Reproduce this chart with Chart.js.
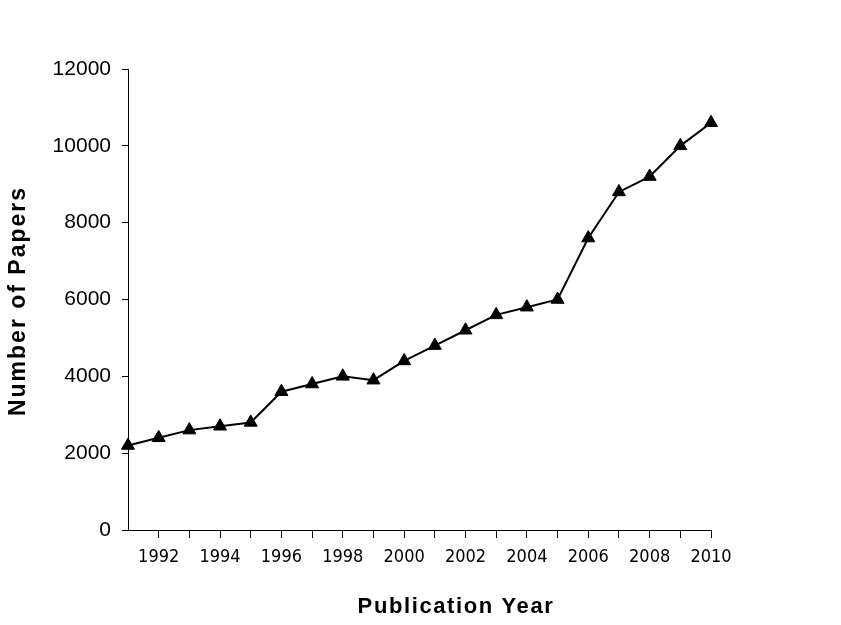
<!DOCTYPE html>
<html>
<head>
<meta charset="utf-8">
<script src="https://cdn.jsdelivr.net/npm/chart.js@4/dist/chart.umd.min.js"></script>
<style>
html,body{margin:0;padding:0;background:#fff;}
#wrap{width:841px;height:625px;position:relative;}
</style>
</head>
<body>
<div id="wrap"><canvas id="c" width="841" height="625"></canvas></div>
<script>
const years = [1991,1992,1993,1994,1995,1996,1997,1998,1999,2000,2001,2002,2003,2004,2005,2006,2007,2008,2009,2010];
const papers = [2200,2400,2600,2700,2800,3600,3800,4000,3900,4400,4800,5200,5600,5800,6000,7600,8800,9200,10000,10600];
const yTicks = [0,2000,4000,6000,8000,10000,12000];
const xTickLabels = [1992,1994,1996,1998,2000,2002,2004,2006,2008,2010];
const xTitle = 'Publication Year';
const yTitle = 'Number of Papers';

const PAD = {left: 0, top: 69, right: 130, bottom: 0};
const CHART_LEFT = 128, CHART_BOTTOM = 530, H = 625;

const titlePlugin = {
  id: 'axisTitles',
  afterDraw(chart) {
    const ctx = chart.ctx;
    ctx.save();
    ctx.fillStyle = '#000';
    ctx.textAlign = 'center';
    ctx.textBaseline = 'alphabetic';
    ctx.font = "bold 22px 'Liberation Sans', Arial";
    ctx.letterSpacing = '1.6px';
    ctx.fillText(xTitle, 456, 613);
    ctx.font = "bold 23px 'Liberation Sans', Arial";
    ctx.letterSpacing = '2px';
    ctx.translate(25, 301);
    ctx.rotate(-Math.PI / 2);
    ctx.fillText(yTitle, 0, 0);
    ctx.restore();
  }
};

new Chart(document.getElementById('c'), {
  type: 'line',
  data: {
    datasets: [{
      data: years.map((y, i) => ({x: y, y: papers[i]})),
      borderColor: '#000',
      backgroundColor: '#000',
      borderWidth: 2,
      pointStyle: 'triangle',
      pointRadius: 7.5,
      pointHoverRadius: 7.5,
      pointBackgroundColor: '#000',
      pointBorderColor: '#000',
      pointBorderWidth: 1,
      tension: 0,
      clip: false
    }]
  },
  plugins: [titlePlugin],
  options: {
    responsive: false,
    animation: false,
    devicePixelRatio: 1,
    layout: {padding: PAD},
    plugins: {legend: {display: false}, tooltip: {enabled: false}},
    scales: {
      x: {
        type: 'linear',
        min: 1991, max: 2010,
        afterBuildTicks: s => { s.ticks = years.map(v => ({value: v})); },
        afterFit: s => { s.height = H - CHART_BOTTOM - PAD.bottom; },
        border: {display: true, color: '#000', width: 1},
        grid: {
          drawOnChartArea: false, drawTicks: true, tickLength: 8,
          color: ctx => (ctx.tick && ctx.tick.value === 1991) ? 'rgba(0,0,0,0)' : '#000',
          lineWidth: 1
        },
        ticks: {
          autoSkip: false, maxRotation: 0, padding: 9, color: '#000',
          font: {family: "'Liberation Sans Narrow', 'DejaVu Sans Condensed', 'Liberation Sans', Arial", size: 18},
          callback: v => xTickLabels.includes(v) ? String(v) : ''
        }
      },
      y: {
        min: 0, max: 12000,
        afterBuildTicks: s => { s.ticks = yTicks.map(v => ({value: v})); },
        afterFit: s => { s.width = CHART_LEFT - PAD.left; },
        border: {display: true, color: '#000', width: 1},
        grid: {drawOnChartArea: false, drawTicks: true, tickLength: 6, color: '#000', lineWidth: 1},
        ticks: {
          padding: 11, color: '#000',
          font: {family: "'Liberation Sans', Arial", size: 21},
          callback: v => String(v)
        }
      }
    }
  }
});
</script>
</body>
</html>
